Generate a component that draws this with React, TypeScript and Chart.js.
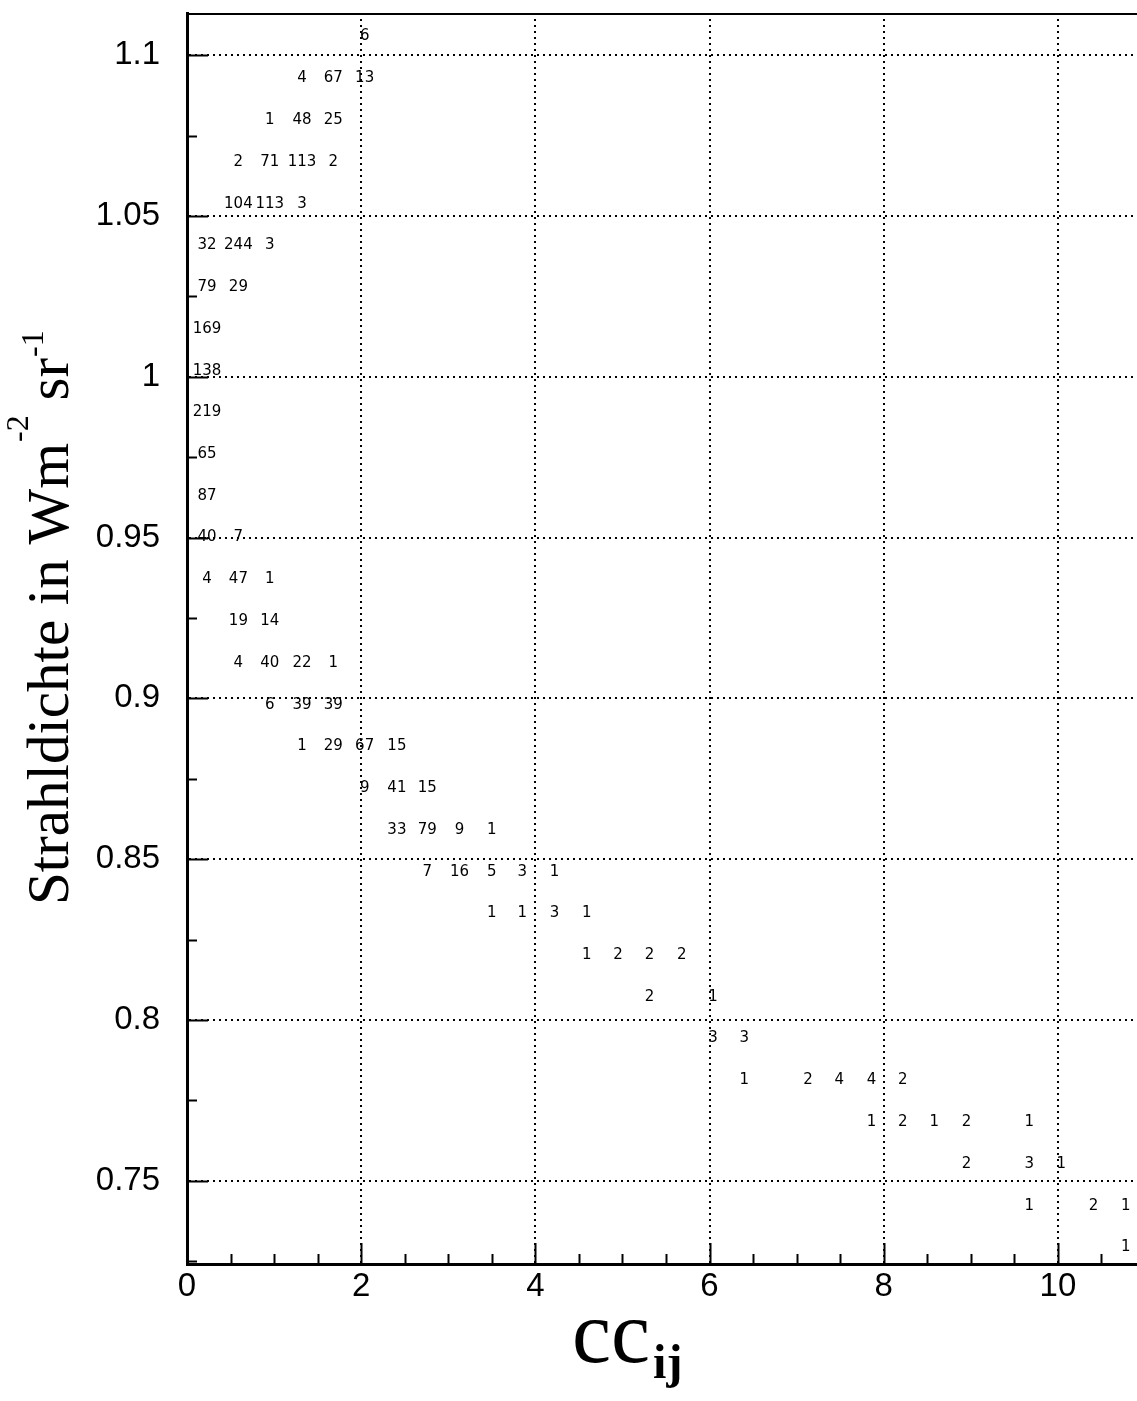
import React, { useEffect, useRef } from "react";
import { Chart, registerables } from "chart.js";

Chart.register(...registerables);

// Bin centres of the correlation coefficient cc_ij (x) and of the radiance (y)
const CC_BINS = [
  0.23, 0.59, 0.95, 1.32, 1.68, 2.04, 2.41, 2.76, 3.13, 3.5, 3.85, 4.22, 4.59, 4.95, 5.31,
  5.68, 6.04, 6.4, 6.77, 7.13, 7.49, 7.86, 8.22, 8.58, 8.95, 9.32, 9.67, 10.04, 10.41, 10.78,
];
const RADIANCE_BINS = [
  1.1058, 1.0928, 1.0798, 1.0668, 1.0538, 1.0408, 1.0279, 1.0149, 1.0019, 0.9889, 0.9759,
  0.963, 0.95, 0.937, 0.924, 0.911, 0.898, 0.8851, 0.8721, 0.8591, 0.8461, 0.8331, 0.8201,
  0.8072, 0.7942, 0.7812, 0.7682, 0.7552, 0.7422, 0.7293,
];

// For every radiance bin: index of the first occupied cc bin, then the counts (null = empty)
const ROW_START = [5, 3, 2, 1, 1, 0, 0, 0, 0, 0, 0, 0, 0, 0, 1, 1, 2, 3, 5, 6, 7, 9, 12, 14, 16, 17, 21, 24, 26, 29];
const ROW_COUNTS: (number | null)[][] = [
  [6],
  [4, 67, 13],
  [1, 48, 25],
  [2, 71, 113, 2],
  [104, 113, 3],
  [32, 244, 3],
  [79, 29],
  [169],
  [138],
  [219],
  [65],
  [87],
  [40, 7],
  [4, 47, 1],
  [19, 14],
  [4, 40, 22, 1],
  [6, 39, 39],
  [1, 29, 67, 15],
  [9, 41, 15],
  [33, 79, 9, 1],
  [7, 16, 5, 3, 1],
  [1, 1, 3, 1],
  [1, 2, 2, 2],
  [2, null, 1],
  [3, 3],
  [1, null, 2, 4, 4, 2],
  [1, 2, 1, 2, null, 1],
  [2, null, 3, 1],
  [1, null, 2, 1],
  [1],
];

const X_TICKS = [0, 2, 4, 6, 8, 10];
const Y_TICKS = [0.75, 0.8, 0.85, 0.9, 0.95, 1, 1.05, 1.1];

const X_MIN = 0;
const X_MAX = 11;
const Y_MIN = 0.7241;
const Y_MAX = 1.1131;

// Inner tick marks, plot frame top line and axis titles
const framePlugin = {
  id: "frame",
  afterDraw(chart: any) {
    const { ctx, chartArea, scales } = chart;
    const xs = scales.x;
    const ys = scales.y;
    ctx.save();
    ctx.strokeStyle = "#000";
    ctx.lineWidth = 2;
    // top border
    ctx.beginPath();
    ctx.moveTo(chartArea.left, chartArea.top + 1);
    ctx.lineTo(chartArea.right + 20, chartArea.top + 1);
    ctx.stroke();
    // x ticks every 0.5, longer at labelled values
    for (let v = X_MIN; v <= X_MAX + 1e-9; v += 0.5) {
      const px = Math.round(xs.getPixelForValue(v)) + 0.5;
      const major = Math.abs(v / 2 - Math.round(v / 2)) < 1e-6;
      ctx.beginPath();
      ctx.moveTo(px, chartArea.bottom);
      ctx.lineTo(px, chartArea.bottom - (major ? 21 : 10));
      ctx.stroke();
    }
    // y ticks every 0.025
    for (let k = Math.ceil(Y_MIN / 0.025); k * 0.025 <= Y_MAX; k++) {
      const v = k * 0.025;
      const py = Math.round(ys.getPixelForValue(v)) + 0.5;
      const major = k % 2 === 0;
      ctx.beginPath();
      ctx.moveTo(chartArea.left, py);
      ctx.lineTo(chartArea.left + (major ? 21 : 10), py);
      ctx.stroke();
    }
    ctx.fillStyle = "#000";
    // x title: cc with subscript ij
    ctx.textAlign = "left";
    ctx.textBaseline = "alphabetic";
    ctx.font = '88px "Liberation Serif"';
    ctx.fillText("cc", 572, 1362);
    const wcc = ctx.measureText("cc").width;
    ctx.font = 'bold 48px "Liberation Serif"';
    ctx.fillText("ij", 572 + wcc + 3, 1378);
    // y title with superscripts
    ctx.translate(68, 905);
    ctx.rotate(-Math.PI / 2);
    let x = 0;
    const big = '59px "Liberation Serif"';
    const small = '32px "Liberation Serif"';
    ctx.font = big;
    ctx.fillText("Strahldichte in Wm", x, 0);
    x += ctx.measureText("Strahldichte in Wm").width + 1;
    ctx.font = small;
    ctx.fillText("-2", x, -40);
    x += ctx.measureText("-2").width;
    ctx.font = big;
    ctx.fillText(" sr", x, 0);
    x += ctx.measureText(" sr").width + 1;
    ctx.font = small;
    ctx.fillText("-1", x, -25);
    ctx.restore();
  },
};

// Writes the count of every occupied bin at its position
const countPlugin = {
  id: "counts",
  afterDatasetsDraw(chart: any) {
    const { ctx } = chart;
    const meta = chart.getDatasetMeta(0);
    const data = chart.data.datasets[0].data as any[];
    ctx.save();
    ctx.fillStyle = "#000";
    ctx.font = '15px "DejaVu Sans"';
    ctx.textAlign = "center";
    ctx.textBaseline = "middle";
    meta.data.forEach((el: any, i: number) => {
      ctx.fillText(String(data[i].n), el.x, el.y);
    });
    ctx.restore();
  },
};

export default function App() {
  const ref = useRef<HTMLCanvasElement>(null);

  useEffect(() => {
    const canvas = ref.current;
    if (!canvas) return;
    const points: { x: number; y: number; n: number }[] = [];
    ROW_COUNTS.forEach((row, r) => {
      row.forEach((n, i) => {
        if (n !== null) points.push({ x: CC_BINS[ROW_START[r] + i], y: RADIANCE_BINS[r], n });
      });
    });

    const tickFont = { family: '"Liberation Sans"', size: 33 };
    const chart = new Chart(canvas, {
      type: "scatter",
      data: {
        datasets: [
          {
            data: points,
            pointRadius: 0,
            pointHoverRadius: 0,
            showLine: false,
          },
        ],
      },
      options: {
        animation: false,
        responsive: false,
        events: [],
        layout: { padding: { left: 0, top: 13, right: 5, bottom: 0 } },
        plugins: { legend: { display: false }, tooltip: { enabled: false } },
        scales: {
          x: {
            type: "linear",
            position: "bottom",
            min: X_MIN,
            max: X_MAX,
            afterBuildTicks: (s: any) => {
              s.ticks = X_TICKS.map((v) => ({ value: v }));
            },
            afterFit: (s: any) => {
              s.height = 137;
              s.paddingLeft = 0;
              s.paddingRight = 0;
            },
            ticks: {
              font: tickFont,
              color: "#000",
              padding: 3,
              maxRotation: 0,
              autoSkip: false,
              callback: (v: any) => String(v),
            },
            grid: { color: "#000", lineWidth: 2, drawTicks: false },
            border: { display: true, color: "#000", width: 3, dash: [2, 4] },
          },
          y: {
            type: "linear",
            min: Y_MIN,
            max: Y_MAX,
            afterBuildTicks: (s: any) => {
              s.ticks = Y_TICKS.map((v) => ({ value: v }));
            },
            afterFit: (s: any) => {
              s.width = 187;
              s.paddingTop = 0;
              s.paddingBottom = 0;
            },
            ticks: {
              font: tickFont,
              color: "#000",
              padding: 27,
              autoSkip: false,
              callback: (v: any) => String(Number(Number(v).toFixed(2))),
            },
            grid: { color: "#000", lineWidth: 2, drawTicks: false },
            border: { display: true, color: "#000", width: 3, dash: [2, 4] },
          },
        },
      } as any,
      plugins: [countPlugin, framePlugin],
    });
    return () => chart.destroy();
  }, []);

  return (
    <div
      style={{
        position: "fixed",
        left: 0,
        top: 0,
        width: 1137,
        height: 1401,
        overflow: "hidden",
        background: "#fff",
      }}
    >
      <canvas ref={ref} width={1150} height={1401} style={{ display: "block", width: 1150, height: 1401 }} />
    </div>
  );
}
